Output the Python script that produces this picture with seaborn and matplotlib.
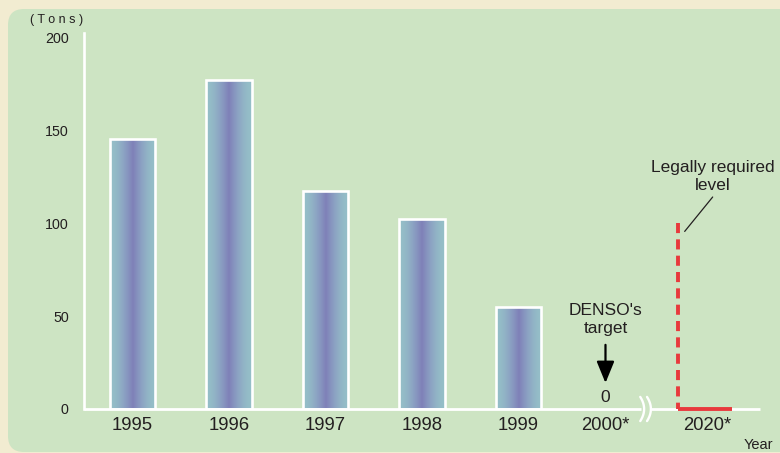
import numpy as np
import pandas as pd
import matplotlib
matplotlib.use("Agg")
import matplotlib.pyplot as plt
import matplotlib.patches as mpatches
from matplotlib.colors import LinearSegmentedColormap
import seaborn as sns

# ---- data ----
years = ["1995", "1996", "1997", "1998", "1999"]
tons = [145, 177, 117, 102, 55]
target_label = "2000*"
target_value = 0
legal_label = "2020*"
legal_level = [100, 0]          # start level and required level
y_ticks = [0, 50, 100, 150, 200]

# ---- style ----
sns.set_theme(style="white")
plt.rcParams["font.family"] = ["Liberation Sans", "DejaVu Sans"]
TEXT = "#231f20"
CREAM = "#f2ecd1"
GREEN = "#cde4c3"
RED = "#e8393c"

fig = plt.figure(figsize=(7.8, 4.53), dpi=100, facecolor=CREAM)

# rounded green panel behind the chart (display pixels)
panel = mpatches.FancyBboxPatch((8, 1), 820, 443,
                                boxstyle="round,pad=0,rounding_size=16",
                                transform=None, facecolor=GREEN,
                                edgecolor="none", zorder=-10)
fig.add_artist(panel)

ax = fig.add_axes([84 / 780, 44 / 453, 676 / 780, 376 / 453])
ax.set_facecolor("none")
ax.set_zorder(1)

df = pd.DataFrame({"year": years, "tons": tons})
sns.barplot(data=df, x="year", y="tons", ax=ax, width=0.47,
            color="white", edgecolor="white", linewidth=1.9, zorder=3)

# horizontal teal-purple-teal gradient inside each bar
cmap = LinearSegmentedColormap.from_list("bar", ["#95bfc8", "#8a9ec2", "#7f80b8"])
t = np.linspace(-1, 1, 256)
grad = ((1 - np.abs(t)) ** 1.7)[None, :]
for p in list(ax.patches):
    x0, y0 = p.get_x(), p.get_y()
    w, h = p.get_width(), p.get_height()
    im = ax.imshow(grad, extent=[x0, x0 + w, y0, y0 + h], aspect="auto",
                   cmap=cmap, vmin=0, vmax=1, zorder=2, interpolation="bilinear")
    im.set_clip_path(p)
    p.set_facecolor("none")
    p.set_edgecolor("white")
    p.set_zorder(3)

x_target = 4.9
x_legal = 5.95
x_break = 5.315

# x axis line with a break
ax.plot([-0.5, x_break - 0.05], [0, 0], color="white", lw=2.0, zorder=4,
        solid_capstyle="butt", clip_on=False)
ax.plot([x_break + 0.06, 6.5], [0, 0], color="white", lw=2.0, zorder=4,
        solid_capstyle="butt", clip_on=False)
s = np.linspace(-1, 1, 40)
for dx in (-0.035, 0.035):
    ax.plot(x_break + dx + 0.04 * (1 - s ** 2) - 0.02, s * 6.5,
            color="white", lw=1.7, zorder=4, clip_on=False)

# legal requirement: drop from 100 to 0 by 2020
x_drop = 5.65
ax.plot([x_drop, x_drop], legal_level, color=RED, lw=2.8,
        linestyle=(0, (2.6, 1.6)), zorder=5, clip_on=False)
ax.plot([x_drop, 6.21], [legal_level[1], legal_level[1]], color=RED, lw=2.8,
        zorder=5, solid_capstyle="butt", clip_on=False)
ax.plot([6.01, 5.72], [114, 95.5], color=TEXT, lw=0.9, zorder=5)
ax.text(6.01, 125, "Legally required\nlevel", ha="center", va="center",
        fontsize=12.5, color=TEXT, linespacing=1.2, clip_on=False)

# company target for 2000
ax.text(x_target, 48, "DENSO's\ntarget", ha="center", va="center",
        fontsize=12.5, color=TEXT, linespacing=1.22, fontweight="medium")
ax.annotate("", xy=(x_target, 14), xytext=(x_target, 34.5),
            arrowprops=dict(arrowstyle="-|>,head_length=1.1,head_width=0.45",
                            color="black", lw=1.6, shrinkA=0, shrinkB=0))
ax.text(x_target, 6, str(target_value), ha="center", va="center",
        fontsize=12.5, color=TEXT)

# axes
ax.set_xlim(-0.5, 6.5)
ax.set_ylim(0, 202.2)
ax.set_xticks(list(range(len(years))) + [x_target, x_legal])
ax.set_xticklabels(years + [target_label, legal_label])
ax.set_yticks(y_ticks)
ax.set_yticklabels([str(v) for v in y_ticks])
ax.tick_params(axis="x", length=0, pad=6, labelsize=13.3, labelcolor=TEXT)
ax.tick_params(axis="y", length=0, pad=11, labelsize=10.3, labelcolor=TEXT)
ax.set_xlabel("")
ax.set_ylabel("")
for side in ("top", "right", "bottom"):
    ax.spines[side].set_visible(False)
ax.spines["left"].set_color("white")
ax.spines["left"].set_linewidth(1.9)
ax.spines["left"].set_zorder(4)

fig.text(57 / 780, 1 - 20 / 453, "( T o n s )", ha="center", va="center",
         fontsize=9, color=TEXT)
fig.text(773 / 780, 1 - 445 / 453, "Year", ha="right", va="center",
         fontsize=10.5, color=TEXT)

fig.savefig("out.png", dpi=100, facecolor=CREAM)
